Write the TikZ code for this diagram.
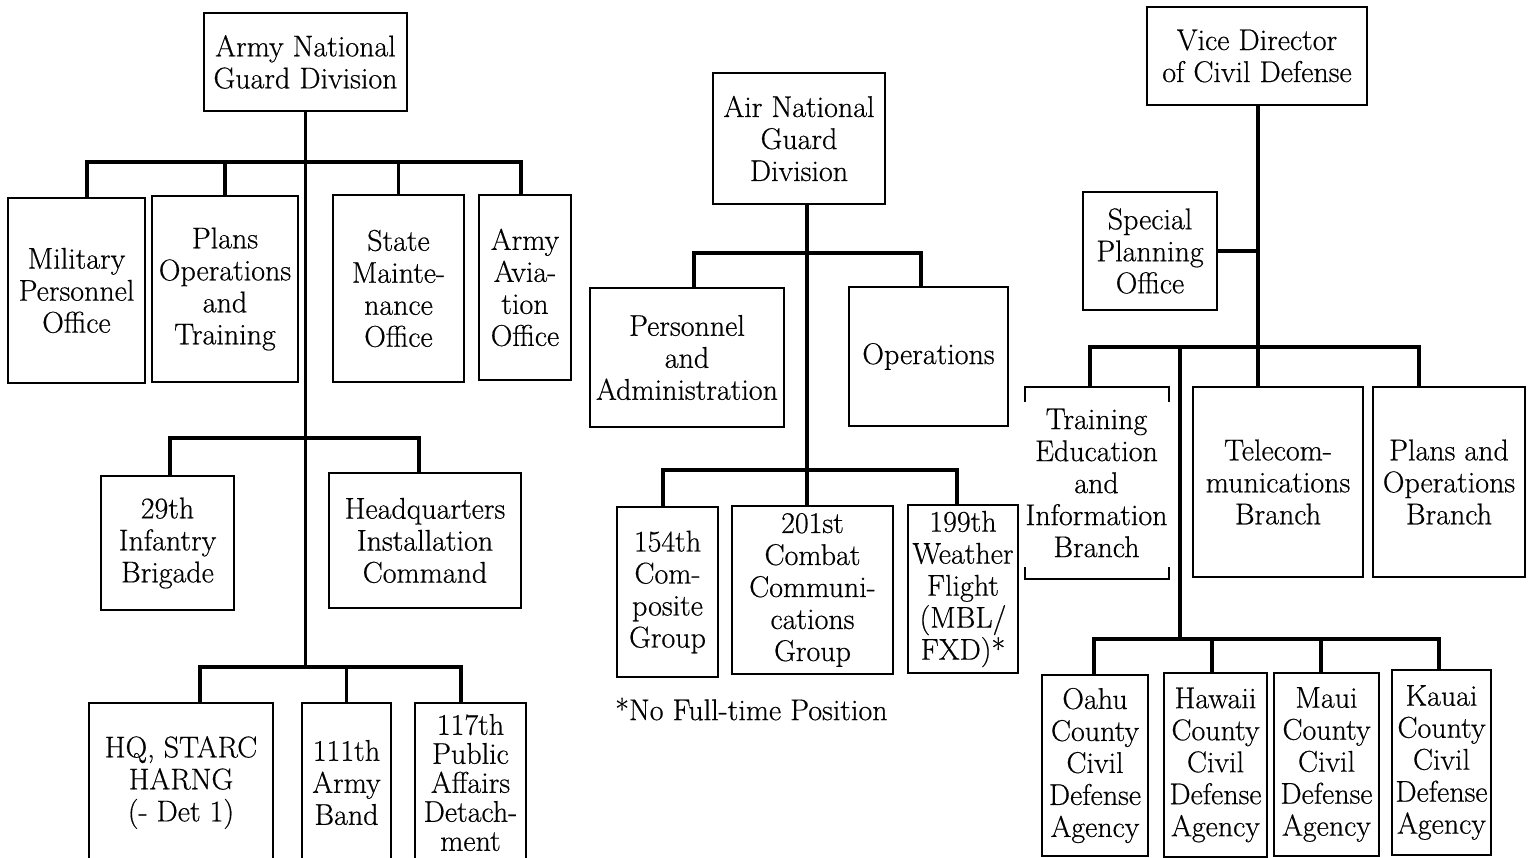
\documentclass[tikz,border=0pt]{standalone}
\usepackage{fontspec}
\newfontfamily\heavy{Latin Modern Roman}[FakeBold=0.5]
\tikzset{
  obox/.style={draw, line width=2pt, inner sep=0pt, align=center, font=\heavy\fontsize{30}{32}\selectfont},
  conn/.style={line width=3.5pt, line join=miter},
  brk/.style={line width=2pt, line join=miter},
  txt/.style={inner sep=0pt, font=\heavy\fontsize{30}{32}\selectfont}
}
\newcommand\mkbox[7][]{%
  \node[obox,#1,minimum width={#5-#3},minimum height={#6-#4}] (#2) at ({(#3+#5)/2},{(#4+#6)/2}) {#7};}
\begin{document}
\begin{tikzpicture}[x=1pt,y=-1pt]
\useasboundingbox (0,0) rectangle (1530,858);
\fill[white] (0,0) rectangle (1530,858);
\clip (0,0) rectangle (1530,858);

% ---------------- Army National Guard Division ----------------
\mkbox{army}{204}{13}{407}{111}{Army National\\Guard Division}
\mkbox{mpo}{8}{198}{145}{383}{Military\\Personnel\\Office}
\mkbox{pot}{152}{196}{298}{382}{Plans\\Operations\\and\\Training}
\mkbox{smo}{333}{195}{464}{382}{State\\Mainte-\\nance\\Office}
\mkbox{aao}{479}{195}{571}{380}{Army\\Avia-\\tion\\Office}
\mkbox{inf}{101}{476}{234}{610}{29th\\Infantry\\Brigade}
\mkbox{hic}{329}{473}{521}{608}{Headquarters\\Installation\\Command}
\mkbox{starc}{89}{703}{273}{862}{HQ, STARC\\HARNG\\(- Det 1)}
\mkbox{band}{302}{703}{391}{862}{111th\\Army\\Band}
\mkbox[font=\heavy\fontsize{30}{29}\selectfont]{pad}{415}{703}{526}{862}{117th\\Public\\Affairs\\Detach-\\ment}

\coordinate (b1L) at (87,162);  \coordinate (b1R) at (521,162);
\coordinate (b2L) at (170,438); \coordinate (b2R) at (419,438);
\coordinate (b3L) at (200,667); \coordinate (b3R) at (461,667);
\draw[conn] (army.south) -- (army.south |- b3L);
\draw[conn] (b1L |- mpo.north) -- (b1L) -- (b1R) -- (b1R |- aao.north);
\draw[conn] (pot.north) -- (pot.north |- b1L);
\draw[conn] (smo.north) -- (smo.north |- b1L);
\draw[conn] (b2L |- inf.north) -- (b2L) -- (b2R) -- (b2R |- hic.north);
\draw[conn] (b3L |- starc.north) -- (b3L) -- (b3R) -- (b3R |- pad.north);
\draw[conn] (band.north) -- (band.north |- b3L);

% ---------------- Air National Guard Division ----------------
\mkbox{air}{713}{73}{885}{204}{Air National\\Guard\\Division}
\mkbox{pa}{590}{288}{784}{427}{Personnel\\and\\Administration}
\mkbox{ops}{849}{287}{1008}{426}{Operations}
\mkbox{c154}{617}{507}{718}{677}{154th\\Com-\\posite\\Group}
\mkbox{c201}{732}{506}{893}{674}{201st\\Combat\\Communi-\\cations\\Group}
\mkbox{c199}{908}{505}{1018}{673}{199th\\Weather\\Flight\\(MBL/\\FXD)*}
\node[txt, anchor=west] (note) at (615,709) {*No Full-time Position};

\coordinate (airT) at (807,253);
\coordinate (c1L) at (694,253); \coordinate (c1R) at (921,253);
\coordinate (c2L) at (663,470); \coordinate (c2R) at (957,470);
\draw[conn] (airT |- air.south) -- (airT |- c201.north);
\draw[conn] (c1L |- pa.north) -- (c1L) -- (c1R) -- (c1R |- ops.north);
\draw[conn] (c2L |- c154.north) -- (c2L) -- (c2R) -- (c2R |- c199.north);

% ---------------- Vice Director of Civil Defense ----------------
\mkbox{vice}{1147}{7}{1367}{105}{Vice Director\\of Civil Defense}
\mkbox{spo}{1083}{192}{1217}{310}{Special\\Planning\\Office}
\node[obox, draw=none, minimum width=127, minimum height=190] (tei) at (1096.5,483) {Training\\Education\\and\\Information\\Branch};
\draw[brk] ([yshift=-15pt]tei.north west) -- (tei.north west) -- (tei.north east) -- ([yshift=-15pt]tei.north east);
\draw[brk] ([yshift=12pt]tei.south west) -- (tei.south west) -- (tei.south east) -- ([yshift=12pt]tei.south east);
\mkbox{tel}{1193}{387}{1363}{577}{Telecom-\\munications\\Branch}
\mkbox{pob}{1373}{387}{1525}{577}{Plans and\\Operations\\Branch}
\mkbox{oahu}{1042}{675}{1148}{856}{Oahu\\County\\Civil\\Defense\\Agency}
\mkbox{hawaii}{1164}{673}{1267}{857}{Hawaii\\County\\Civil\\Defense\\Agency}
\mkbox{maui}{1274}{673}{1379}{856}{Maui\\County\\Civil\\Defense\\Agency}
\mkbox{kauai}{1392}{670}{1491}{855}{Kauai\\County\\Civil\\Defense\\Agency}

\coordinate (vT) at (1258,347);
\coordinate (v1L) at (1090,347); \coordinate (v1R) at (1419,347);
\coordinate (v2) at (1180,347);
\coordinate (d1L) at (1094,639); \coordinate (d1R) at (1439,639);
\coordinate (dH) at (1212,639); \coordinate (dM) at (1321,639);
\draw[conn] (vT |- vice.south) -- (vT |- tel.north);
\draw[conn] (spo.east) -- (spo.east -| vT);
\draw[conn] (v1L |- tei.north) -- (v1L) -- (v1R) -- (v1R |- pob.north);
\draw[conn] (v2) -- (v2 |- d1L);
\draw[conn] (d1L |- oahu.north) -- (d1L) -- (d1R) -- (d1R |- kauai.north);
\draw[conn] (dH) -- (dH |- hawaii.north);
\draw[conn] (dM) -- (dM |- maui.north);
\end{tikzpicture}
\end{document}
